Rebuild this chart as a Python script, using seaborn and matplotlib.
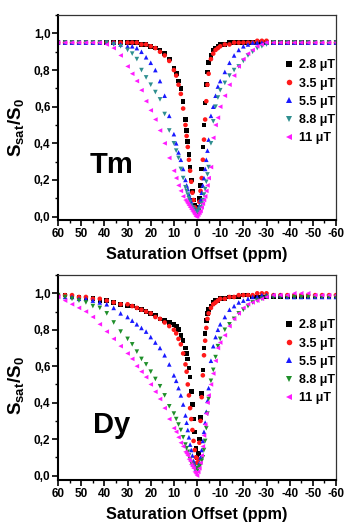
import numpy as np
import pandas as pd
import matplotlib
matplotlib.use('Agg')
import matplotlib.pyplot as plt
from matplotlib.ticker import MultipleLocator, FuncFormatter
import seaborn as sns

# saturation offsets (ppm), shared by every series
offset = [60, 57, 54, 51, 48, 45, 42, 39, 36, 33, 30,
          28, 26, 24, 22, 20, 18, 16, 14, 12,
          10, 9, 8, 7, 6, 5, 4.5, 4, 3.5, 3, 2.5, 2, 1.5, 1, 0.5, 0,
          -0.5, -1, -1.5, -2, -2.5, -3, -3.5, -4, -4.5, -5, -6, -7, -8, -9, -10,
          -12, -14, -16, -18, -20, -22, -24, -26, -28,
          -30, -33, -36, -39, -42, -45, -48, -51, -54, -57, -60]

labels = ['2.8 \u03bcT', '3.5 \u03bcT', '5.5 \u03bcT', '8.8 \u03bcT', '11 \u03bcT']

# Tm
tm_28 = [.95, .95, .95, .95, .95, .95, .95, .95, .95, .95, .95,
         .95, .95, .94, .94, .93, .92, .91, .89, .86,
         .81, .78, .74, .70, .63, .53, .47, .41, .34, .27, .20, .14, .09, .06, .04, .03,
         .05, .10, .17, .26, .38, .50, .62, .72, .79, .84, .88, .91, .92, .93, .94,
         .94, .95, .95, .95, .95, .95, .95, .95, .95,
         .95, .95, .95, .95, .95, .95, .95, .95, .95, .95, .95]
tm_35 = [.95, .95, .95, .95, .95, .95, .95, .95, .95, .95, .95,
         .95, .95, .94, .94, .93, .92, .90, .88, .85,
         .80, .77, .72, .67, .59, .50, .44, .38, .31, .25, .19, .13, .09, .05, .03, .02,
         .04, .08, .14, .21, .31, .42, .53, .63, .72, .78, .86, .89, .91, .92, .93,
         .94, .94, .95, .95, .95, .95, .95, .96, .96,
         .96, .95, .95, .95, .95, .95, .95, .95, .95, .95, .95]
tm_55 = [.95, .95, .95, .95, .95, .95, .95, .95, .95, .94, .93,
         .93, .92, .90, .87, .84, .80, .74, .66, .55,
         .45, .40, .35, .31, .26, .20, .17, .15, .12, .10, .08, .06, .05, .04, .03, .03,
         .04, .06, .09, .13, .17, .21, .26, .31, .36, .42, .55, .60, .66, .71, .74,
         .79, .84, .88, .91, .93, .94, .95, .95, .95,
         .95, .95, .95, .95, .95, .95, .95, .95, .95, .95, .95]
tm_88 = [.95, .95, .95, .95, .95, .95, .95, .95, .94, .93, .91,
         .89, .86, .80, .76, .72, .68, .64, .56, .47,
         .40, .36, .32, .26, .21, .16, .14, .12, .10, .08, .06, .05, .04, .03, .02, .02,
         .03, .04, .05, .07, .09, .12, .15, .19, .23, .27, .40, .52, .60, .65, .69,
         .73, .77, .80, .82, .85, .88, .90, .92, .93,
         .94, .95, .95, .95, .95, .95, .95, .95, .95, .95, .95]
tm_11 = [.95, .95, .95, .95, .95, .95, .95, .94, .92, .88, .82,
         .78, .74, .69, .63, .58, .53, .47, .40, .32,
         .25, .21, .17, .14, .11, .09, .08, .07, .06, .05, .04, .03, .02, .01, .00, .00,
         .01, .02, .03, .05, .07, .09, .11, .14, .17, .21, .27, .43, .50, .54, .60,
         .66, .72, .77, .82, .86, .89, .91, .93, .94,
         .95, .95, .95, .95, .95, .95, .95, .95, .95, .95, .95]

# Dy
dy_28 = [.99, .99, .98, .98, .97, .97, .96, .96, .95, .94, .93,
         .93, .92, .91, .90, .89, .88, .86, .85, .84,
         .83, .82, .80, .77, .74, .70, .67, .64, .59, .54, .46, .39, .31, .24, .15, .10,
         .12, .20, .32, .45, .58, .70, .78, .85, .89, .91, .93, .95, .96, .96, .97,
         .97, .98, .98, .98, .99, .99, .98, .98, .98,
         .98, .98, .98, .98, .98, .98, .98, .98, .98, .98, .98]
dy_35 = [.99, .99, .99, .98, .98, .97, .97, .96, .95, .94, .94,
         .93, .92, .91, .90, .89, .87, .86, .84, .82,
         .80, .78, .75, .72, .67, .61, .57, .50, .44, .37, .31, .25, .19, .14, .10, .07,
         .09, .18, .30, .43, .55, .66, .74, .81, .86, .89, .92, .94, .95, .96, .97,
         .97, .98, .98, .99, .99, .99, .99, 1.0, 1.0,
         1.0, .99, .99, .99, .99, .99, .99, .99, .99, .99, .99]
dy_55 = [.99, .98, .98, .97, .97, .96, .95, .94, .92, .89, .87,
         .85, .83, .81, .79, .76, .73, .70, .66, .61,
         .55, .52, .48, .44, .39, .33, .29, .25, .21, .17, .14, .11, .08, .06, .04, .04,
         .05, .07, .10, .14, .19, .24, .29, .35, .41, .48, .63, .71, .76, .80, .83,
         .87, .91, .93, .95, .96, .97, .98, .98, .99,
         .99, .99, .99, .98, .98, .98, .98, .98, .98, .98, .98]
dy_88 = [.99, .98, .97, .96, .95, .93, .92, .89, .84, .79, .75,
         .72, .68, .64, .61, .57, .53, .49, .44, .38,
         .34, .31, .28, .25, .21, .17, .15, .13, .11, .09, .07, .06, .05, .04, .03, .03,
         .04, .05, .06, .08, .10, .14, .19, .26, .34, .42, .52, .58, .65, .71, .75,
         .80, .83, .86, .89, .91, .93, .95, .96, .97,
         .98, .98, .98, .98, .98, .98, .98, .98, .98, .98, .98]
dy_11 = [.98, .96, .94, .92, .90, .87, .83, .79, .75, .71, .67,
         .64, .60, .57, .54, .50, .46, .42, .37, .31,
         .26, .24, .21, .18, .16, .13, .12, .11, .09, .08, .06, .05, .04, .02, .01, .00,
         .02, .04, .07, .11, .16, .22, .28, .34, .40, .44, .50, .56, .63, .70, .73,
         .77, .82, .86, .89, .92, .94, .95, .96, .97,
         .98, .99, .99, .99, 1.0, 1.0, 1.0, .99, .99, .99, .99]

markers = ['s', 'o', '^', 'v', '<']
tm_colors = ['#000000', '#ff1a1a', '#1a1aff', '#2f8f8f', '#ff1aff']
dy_colors = ['#000000', '#ff1a1a', '#1a1aff', '#1f8f2a', '#ff1aff']


def long_frame(series):
    rows = []
    for lab, vals in zip(labels, series):
        rows.append(pd.DataFrame({'offset': offset, 'ratio': vals, 'field': lab}))
    return pd.concat(rows, ignore_index=True)


sns.set_style('white')
plt.rcParams['font.family'] = ['Liberation Sans', 'DejaVu Sans']
plt.rcParams['font.weight'] = 'bold'
plt.rcParams['mathtext.fontset'] = 'custom'
plt.rcParams['mathtext.rm'] = 'Liberation Sans:bold'
plt.rcParams['mathtext.default'] = 'rm'
plt.rcParams['axes.unicode_minus'] = False
for key in ['text.color', 'axes.labelcolor', 'xtick.color', 'ytick.color']:
    plt.rcParams[key] = 'black'

fig = plt.figure(figsize=(3.46, 5.23), dpi=100)
ax1 = fig.add_axes([0.168, 0.579, 0.803, 0.392])
ax2 = fig.add_axes([0.168, 0.082, 0.803, 0.392])

panels = [(ax1, [tm_28, tm_35, tm_55, tm_88, tm_11], tm_colors, 'Tm', (-0.02, 1.1), 0.45),
          (ax2, [dy_28, dy_35, dy_55, dy_88, dy_11], dy_colors, 'Dy', (-0.025, 1.1), 0.46)]

comma = FuncFormatter(lambda v, p: ('%.1f' % v).replace('.', ','))

for ax, series, colors, name, ylim, ylab_y in panels:
    df = long_frame(series)
    sns.scatterplot(data=df, x='offset', y='ratio', hue='field', style='field',
                    palette=dict(zip(labels, colors)),
                    markers=dict(zip(labels, markers)),
                    s=11, linewidth=0, ax=ax)
    ax.set_xlim(60, -60)
    ax.set_ylim(*ylim)
    ax.xaxis.set_major_locator(MultipleLocator(10))
    ax.xaxis.set_minor_locator(MultipleLocator(5))
    ax.yaxis.set_major_locator(MultipleLocator(0.2))
    ax.yaxis.set_minor_locator(MultipleLocator(0.1))
    ax.yaxis.set_major_formatter(comma)
    ax.tick_params(which='major', direction='out', length=4, width=1.2,
                   labelsize=8.5, pad=1.5, bottom=True, left=True)
    ax.tick_params(which='minor', direction='out', length=2, width=1,
                   bottom=True, left=True)
    for side in ['bottom', 'left']:
        ax.spines[side].set_linewidth(1.5)
        ax.spines[side].set_color('black')
    for side in ['top', 'right']:
        ax.spines[side].set_linewidth(0.9)
        ax.spines[side].set_color('#333333')
    ax.set_xlabel('Saturation Offset (ppm)', fontsize=11.7, fontweight='bold', labelpad=5)
    ax.set_ylabel('S$_{sat}$/S$_0$', fontsize=13.5, fontweight='bold')
    ax.yaxis.set_label_coords(-0.117, ylab_y)
    ax.text(37, 0.28, name, fontsize=21, fontweight='bold', ha='center', va='center')
    ax.legend(loc='upper left', bbox_to_anchor=(0.785, 0.815), frameon=False,
              fontsize=9, handlelength=1.0, handletextpad=0.35, labelspacing=0.5,
              borderpad=0, markerscale=1.2)

fig.savefig('out.png', dpi=100)
